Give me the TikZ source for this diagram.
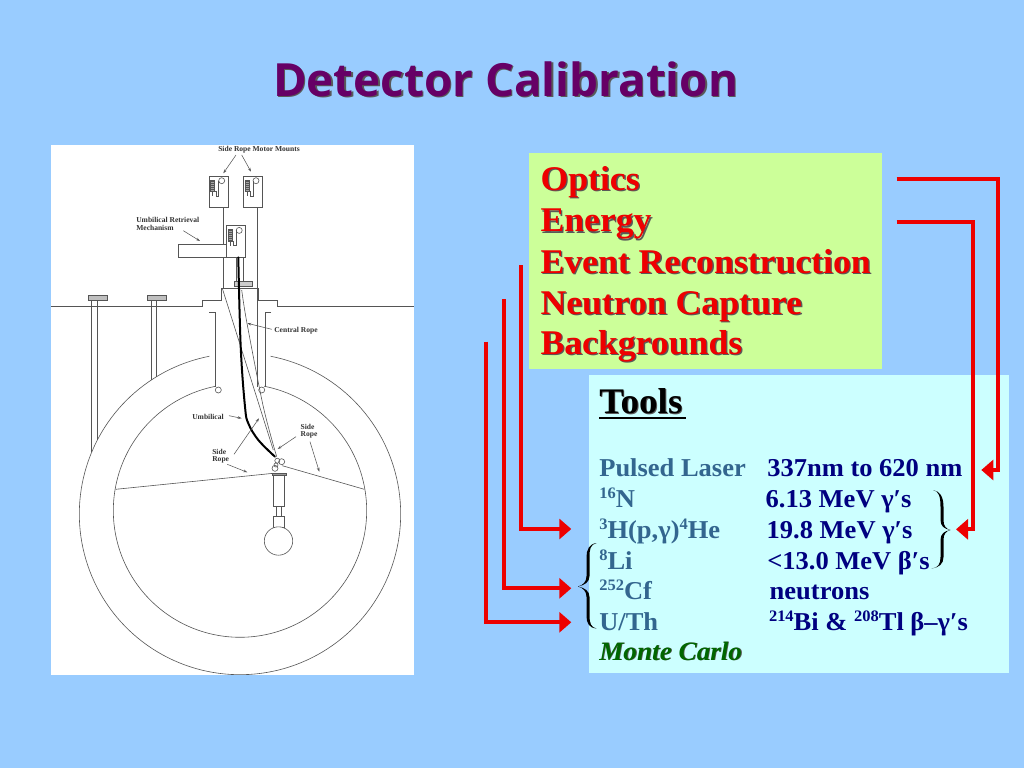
\documentclass[tikz,border=0pt]{standalone}
\usepackage{fontspec}
\setmainfont{Liberation Serif}
\newfontfamily\palfont[FakeStretch=1.03]{Liberation Serif}
\newfontfamily\titlefont{Open Sans}
\usetikzlibrary{arrows.meta}
\definecolor{bgblue}{HTML}{99CCFF}
\definecolor{boxgreen}{HTML}{CCFF99}
\definecolor{boxcyan}{HTML}{CCFFFF}
\definecolor{titlepurple}{HTML}{660066}
\definecolor{redtext}{HTML}{EE0000}
\definecolor{toolblue}{HTML}{33668F}
\definecolor{navytext}{HTML}{000080}
\definecolor{mcgreen}{HTML}{006600}
\definecolor{sketch}{HTML}{555555}
\newcommand{\shadowed}[3]{\leavevmode\rlap{\kern#3\raisebox{-#3}{\color{black!65}#2}}{\color{#1}#2}}
\newcommand{\sups}[1]{\raisebox{6.6pt}{\fontsize{12pt}{12pt}\selectfont #1}}
\tikzset{
  x=0.75pt,y=-0.75pt,
  every node/.style={inner sep=0pt,outer sep=0pt,anchor=base west},
  sk/.style={draw=sketch,line width=0.45pt},
  sklabel/.style={font=\fontsize{5.65pt}{5.65pt}\selectfont\bfseries,text=black!80},
  note/.style={draw=sketch,line width=0.4pt,-{Stealth[length=3pt,width=2pt]}},
  rope/.style={draw=black,line width=1.5pt,line cap=round},
  bigline/.style={font=\palfont\fontsize{26pt}{26pt}\selectfont\bfseries},
  toolhead/.style={font=\palfont\fontsize{27pt}{27pt}\selectfont\bfseries},
  toolrow/.style={font=\palfont\fontsize{19.3pt}{19.3pt}\selectfont\bfseries,text=toolblue},
  valrow/.style={font=\palfont\fontsize{19.3pt}{19.3pt}\selectfont\bfseries,text=navytext},
  mcrow/.style={font=\palfont\fontsize{19.8pt}{19.8pt}\selectfont\bfseries\itshape},
  redarrow/.style={draw=red!93!black,line width=3pt,-{Triangle[length=9pt,width=15pt]}},
  bracefill/.style={fill=black,draw=none},
  mechbox/.pic={
    \draw[sk] (0,0) rectangle (19,31.7);
    \draw[sk] (12.7,4.7) circle (3);
    \draw[sk,fill=black!35] (1.5,4) rectangle (5.5,15.5);
    \foreach \k in {5,7,9,11,13,15}{\draw[sk] (1.5,\k) -- (5.5,\k);}
    \draw[sk] (9.7,4.7) -- (9.7,20) -- (7,20) -- (7,15.5) -- (3.5,15.5) -- (3.5,20);
  },
}
\begin{document}
\begin{tikzpicture}
\useasboundingbox (0,0) rectangle (1024,768);
\fill[bgblue] (0,0) rectangle (1024,768);
% title
\node[font=\titlefont\fontsize{34.3pt}{34.3pt}\selectfont\bfseries] (title) at (273,96) {\shadowed{titlepurple}{Detector Calibration}{1.1pt}};
% sketch panel
\fill[white] (51,145) rectangle (414,675);
\draw[sk] (51,306) -- (202.7,306) -- (202.7,300) -- (221.7,300) -- (221.7,288.3) -- (258.3,288.3) -- (258.3,300) -- (277.7,300) -- (277.7,306) -- (414,306);
\draw[sk] plot[domain=-79:259,samples=160] ({240+160.7*cos(\x)},{514+160.7*sin(\x)});
\draw[sk] plot[domain=-79:259,samples=160] ({240+126.7*cos(\x)},{510.6+126.7*sin(\x)});
% tubes
\draw[sk,fill=black!25] (88.3,295.7) rectangle (107.3,300);
\draw[sk,fill=black!25] (147.3,295.7) rectangle (166,300);
\draw[sk] (91.7,300) -- (91.7,452);
\draw[sk] (97.3,300) -- (97.3,440);
\draw[sk] (151,300) -- (151,380);
\draw[sk] (156.7,300) -- (156.7,376.6);
% ports
\draw[sk] (209,312.7) -- (215.7,312.7) -- (215.7,387);
\draw[sk] (218.3,390) circle (3);
\draw[sk] (271,312.7) -- (265,312.7) -- (265,387);
\draw[sk] (261.7,390) circle (3);
% mechanisms
\pic at (209,176) {mechbox};
\pic at (243.3,176) {mechbox};
\pic at (226.5,225.7) {mechbox};
\draw[sk] (178.3,244.3) rectangle (226.5,257.3);
\draw[sk] (223.3,207.7) -- (223.3,244.3);
\draw[sk] (223.3,257.3) -- (223.3,288.3);
\draw[sk] (257.5,207.7) -- (257.5,387);
\draw[sk] (236,257.3) -- (236,281);
\draw[sk] (243,257.3) -- (243,281);
\draw[sk,fill=black!20] (234,281) rectangle (252.7,286.7);
% ropes in the tank
\draw[sk] (222.3,288.3) -- (273.3,450);
\draw[sk] plot[smooth] coordinates {(241.7,290) (246.7,321.7) (263.3,406.7) (276.7,456.7)};
\draw[sk] (115.7,489.3) -- (273.3,473.3);
\draw[sk] (282.3,465.7) -- (364.3,489.3);
\draw[rope] plot[smooth,tension=0.6] coordinates {(238.3,257.3) (240.7,346.7) (245,406.7) (248.3,423.3) (258.3,440) (275,456.7)};
% rig
\draw[sk] (275,468.3) circle (3);
\draw[sk] (277.3,460.7) circle (2.5);
\draw[sk] (281.7,461.7) circle (3);
\draw[sk] (276,465) circle (2);
\draw[sk,fill=black!40] (272.3,472.8) rectangle (286,475);
\draw[sk] (273.3,475) rectangle (284,506);
\draw[sk] (276,506) rectangle (281.7,516);
\draw[sk] (273.3,516) rectangle (284,527.3);
\draw[sk,fill=white] (278.5,541) circle (14.2);
% sketch labels
\node[sklabel] (smm) at (218.3,151.7) {Side Rope Motor Mounts};
\node[sklabel] (urm) at (136.3,222.7) {Umbilical Retrieval};
\node[sklabel] (urm2) at (136.3,230) {Mechanism};
\node[sklabel] (crope) at (274.3,332.7) {Central Rope};
\node[sklabel] (umb) at (192.3,419.7) {Umbilical};
\node[sklabel] (sl1) at (212.3,454) {Side};
\node[sklabel] (sl2) at (212.3,461.3) {Rope};
\node[sklabel] (sr1) at (300.7,429.3) {Side};
\node[sklabel] (sr2) at (300.7,436.7) {Rope};
\coordinate (a1) at (236,155); \coordinate (a1e) at (223.3,173.3);
\coordinate (a2) at (241.7,155); \coordinate (a2e) at (251,171.7);
\coordinate (a3) at (183.3,230.7); \coordinate (a3e) at (200,241);
\coordinate (a4) at (271.7,329.3); \coordinate (a4e) at (247.3,323.3);
\coordinate (a5) at (229,415.7); \coordinate (a5e) at (241.7,418.3);
\coordinate (a6) at (296,436.7); \coordinate (a6e) at (277.7,449);
\coordinate (a7) at (310,441.7); \coordinate (a7e) at (319.3,471.7);
\coordinate (a8) at (234,454.3); \coordinate (a8e) at (259,418.3);
\coordinate (a9) at (227.3,464.3); \coordinate (a9e) at (247.3,472.3);
\foreach \s/\e in {a1/a1e,a2/a2e,a3/a3e,a4/a4e,a5/a5e,a6/a6e,a7/a7e,a8/a8e,a9/a9e}{\draw[note] (\s) -- (\e);}
% boxes
\fill[boxgreen] (529,153.3) rectangle (882,368.5);
\fill[boxcyan] (588.5,375) rectangle (1009,672.7);
% big labels
\node[bigline] (optics) at (540.5,190) {\shadowed{redtext}{Optics}{1pt}};
\node[bigline] (energy) at (540.5,231.7) {\shadowed{redtext}{Energy}{1pt}};
\node[bigline] (event) at (540.5,273) {\shadowed{redtext}{Event Reconstruction}{1pt}};
\node[bigline] (neutron) at (540.5,314) {\shadowed{redtext}{Neutron Capture}{1pt}};
\node[bigline] (backgr) at (540.5,354) {\shadowed{redtext}{Backgrounds}{1pt}};
\node[toolhead] (tools) at (599.3,413.3) {\shadowed{black}{Tools}{0.7pt}};
\coordinate (ulA) at (599.3,418.3); \coordinate (ulB) at (686,418.3);
\draw[black,line width=1.4pt] (ulA) -- (ulB);
% tool rows
\node[toolrow] (t1) at (599.3,476) {Pulsed Laser};
\node[toolrow] (t2) at (599.3,507.3) {\sups{16}N};
\node[toolrow] (t3) at (599.3,538.3) {\sups{3}H(p,γ)\sups{4}He};
\node[toolrow] (t4) at (599.3,569) {\sups{8}Li};
\node[toolrow] (t5) at (599.3,599) {\sups{252}Cf};
\node[toolrow] (t6) at (599.3,630) {U/Th};
\node[mcrow] (t7) at (599.3,660) {\shadowed{mcgreen}{Monte Carlo}{0.6pt}};
\node[valrow] (v1) at (767.3,476) {337nm to 620 nm};
\node[valrow] (v2) at (765.7,507.3) {6.13 MeV γ′s};
\node[valrow] (v3) at (766.7,538.3) {19.8 MeV γ′s};
\node[valrow] (v4) at (767.3,569) {<13.0 MeV β′s};
\node[valrow] (v5) at (769.7,599) {neutrons};
\node[valrow] (v6) at (769,630) {\sups{214}Bi \& \sups{208}Tl β–γ′s};
% braces
\fill[bracefill] (933,490) .. controls (939,491) and (940.5,497) .. (940.5,507) -- (940.5,520) .. controls (940.5,526) and (944,529) .. (950.6,530) .. controls (944,531) and (940.5,534) .. (940.5,540) -- (940.5,557) .. controls (940.5,564) and (938,568) .. (931.5,568.5) .. controls (939,567.5) and (943.5,564) .. (943.5,557) -- (943.5,540) .. controls (943.5,534) and (946,531) .. (950.6,530) .. controls (946,529) and (943.5,526) .. (943.5,520) -- (943.5,507) .. controls (943.5,497) and (940,491) .. (933,490) -- cycle;
\fill[bracefill] (596.6,543) .. controls (590,544.5) and (589.5,550) .. (589.5,557) -- (589.5,576) .. controls (589.5,582) and (585,585) .. (578,586.5) .. controls (585,588) and (589.5,591) .. (589.5,597) -- (589.5,616) .. controls (589.5,623) and (591,627.5) .. (596.6,628.5) .. controls (589,628) and (586.5,623) .. (586.5,616) -- (586.5,597) .. controls (586.5,591) and (583,588) .. (578,586.5) .. controls (583,585) and (586.5,582) .. (586.5,576) -- (586.5,557) .. controls (586.5,550) and (589,544) .. (596.6,543) -- cycle;
% red connectors
\coordinate (r1s) at (896.5,179.3); \coordinate (r1c) at (998,179.3); \coordinate (r1d) at (998,470); \coordinate (r1e) at (981.3,470);
\coordinate (r2s) at (896.5,221.7); \coordinate (r2c) at (972.5,221.7); \coordinate (r2d) at (972.5,529.3); \coordinate (r2e) at (956,529.3);
\coordinate (l1s) at (520.6,265); \coordinate (l1c) at (520.6,529); \coordinate (l1e) at (571.3,529);
\coordinate (l2s) at (503.7,299); \coordinate (l2c) at (503.7,588.3); \coordinate (l2e) at (571.3,588.3);
\coordinate (l3s) at (486,341.7); \coordinate (l3c) at (486,622.3); \coordinate (l3e) at (571.3,622.3);
\draw[redarrow] (r1s) -- (r1c) -- (r1d) -- (r1e);
\draw[redarrow] (r2s) -- (r2c) -- (r2d) -- (r2e);
\draw[redarrow] (l1s) -- (l1c) -- (l1e);
\draw[redarrow] (l2s) -- (l2c) -- (l2e);
\draw[redarrow] (l3s) -- (l3c) -- (l3e);
\end{tikzpicture}
\end{document}
